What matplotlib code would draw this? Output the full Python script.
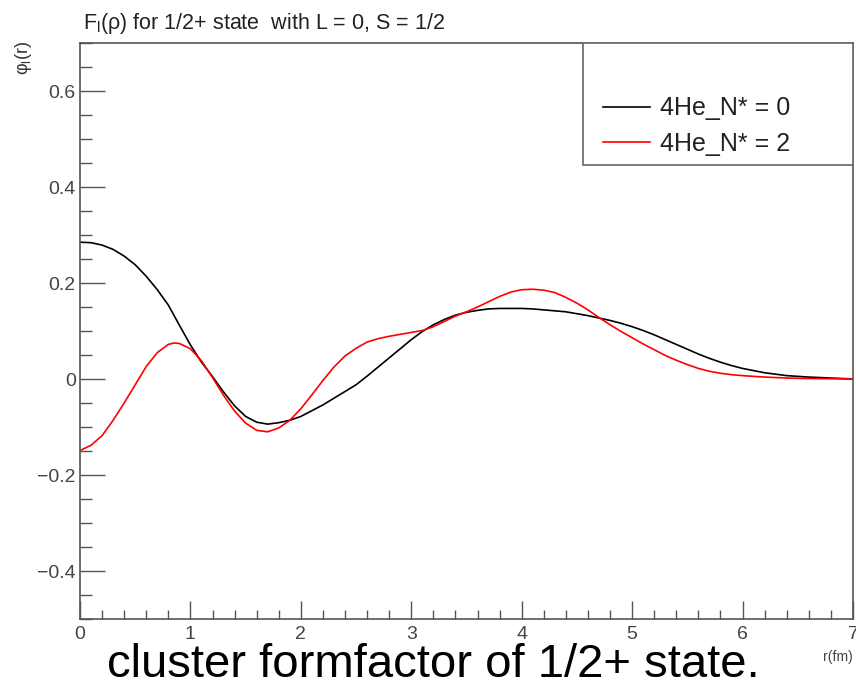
import matplotlib
matplotlib.use("Agg")
import matplotlib.pyplot as plt
from matplotlib.patches import Rectangle
from matplotlib.ticker import MultipleLocator

plt.rcParams.update({
    "font.family": ["Liberation Sans", "DejaVu Sans"],
    "mathtext.fontset": "custom",
    "mathtext.rm": "Liberation Sans",
    "axes.edgecolor": "#555555",
})

# radial grid (fm) and form factor values for each core configuration
r_n0 = [0.0, 0.1, 0.2, 0.3, 0.4, 0.5, 0.6, 0.7, 0.8, 0.9, 1.0, 1.1, 1.2,
        1.3, 1.4, 1.5, 1.6, 1.7, 1.8, 1.9, 2.0, 2.1, 2.2, 2.3, 2.4, 2.5,
        2.6, 2.7, 2.8, 2.9, 3.0, 3.1, 3.2, 3.3, 3.4, 3.5, 3.6, 3.7, 3.8,
        3.9, 4.0, 4.1, 4.2, 4.3, 4.4, 4.5, 4.6, 4.7, 4.8, 4.9, 5.0, 5.1,
        5.2, 5.3, 5.4, 5.5, 5.6, 5.7, 5.8, 5.9, 6.0, 6.2, 6.4, 6.6, 6.8,
        7.0]
phi_n0 = [0.285, 0.284, 0.279, 0.270, 0.256, 0.238, 0.214, 0.186, 0.154,
          0.112, 0.071, 0.035, 0.005, -0.027, -0.056, -0.078, -0.090,
          -0.094, -0.091, -0.086, -0.078, -0.066, -0.054, -0.040, -0.026,
          -0.012, 0.006, 0.025, 0.044, 0.063, 0.082, 0.099, 0.113, 0.124,
          0.133, 0.139, 0.143, 0.146, 0.147, 0.147, 0.147, 0.146, 0.144,
          0.142, 0.140, 0.136, 0.132, 0.127, 0.122, 0.116, 0.109, 0.101,
          0.092, 0.082, 0.072, 0.062, 0.052, 0.043, 0.035, 0.028, 0.022,
          0.013, 0.007, 0.004, 0.002, 0.0]

r_n2 = [0.0, 0.1, 0.2, 0.3, 0.4, 0.5, 0.6, 0.7, 0.8, 0.85, 0.9, 1.0, 1.1,
        1.2, 1.3, 1.4, 1.5, 1.6, 1.7, 1.8, 1.9, 2.0, 2.1, 2.2, 2.3, 2.4,
        2.5, 2.6, 2.7, 2.8, 2.9, 3.0, 3.1, 3.2, 3.3, 3.4, 3.5, 3.6, 3.7,
        3.8, 3.9, 4.0, 4.1, 4.2, 4.3, 4.4, 4.5, 4.6, 4.7, 4.8, 4.9, 5.0,
        5.1, 5.2, 5.3, 5.4, 5.5, 5.6, 5.7, 5.8, 5.9, 6.0, 6.2, 6.4, 6.6,
        6.8, 7.0]
phi_n2 = [-0.149, -0.138, -0.118, -0.086, -0.050, -0.012, 0.026, 0.055,
          0.072, 0.075, 0.074, 0.063, 0.038, 0.003, -0.034, -0.067, -0.092,
          -0.107, -0.110, -0.102, -0.086, -0.062, -0.033, -0.003, 0.025,
          0.048, 0.064, 0.077, 0.084, 0.089, 0.093, 0.097, 0.101, 0.109,
          0.120, 0.131, 0.140, 0.150, 0.161, 0.172, 0.181, 0.186, 0.187,
          0.185, 0.180, 0.170, 0.158, 0.144, 0.128, 0.113, 0.099, 0.086,
          0.073, 0.061, 0.049, 0.039, 0.030, 0.022, 0.016, 0.012, 0.009,
          0.007, 0.004, 0.002, 0.001, 0.0005, 0.0]

labels = ["4He_N* = 0", "4He_N* = 2"]
colors = ["#000000", "#ff0000"]

W, H = 856, 688
fig = plt.figure(figsize=(W / 100, H / 100), dpi=100)
ax = fig.add_axes([80 / W, 1 - 619 / H, 773 / W, 576 / H])

l0, = ax.plot(r_n0, phi_n0, color=colors[0], lw=1.2, label=labels[0])
l1, = ax.plot(r_n2, phi_n2, color=colors[1], lw=1.2, label=labels[1])

ax.set_xlim(0, 7)
ax.set_ylim(-0.5, 0.7)
ax.xaxis.set_major_locator(MultipleLocator(1))
ax.xaxis.set_minor_locator(MultipleLocator(0.2))
ax.yaxis.set_minor_locator(MultipleLocator(0.05))
ax.set_yticks([-0.4, -0.2, 0, 0.2, 0.4, 0.6])
ax.set_yticklabels(["\u22120.4", "\u22120.2", "0", "0.2", "0.4", "0.6"])

ax.tick_params(which="both", direction="in", top=False, right=False,
               color="#555555", width=1, labelcolor="#444444", labelsize=14)
ax.tick_params(axis="y", which="major", length=18, pad=3)
ax.tick_params(axis="y", which="minor", length=8.5)
ax.tick_params(axis="x", which="major", length=13, pad=5)
ax.tick_params(axis="x", which="minor", length=6.5)
for sp in ax.spines.values():
    sp.set_linewidth(1.2)

# boxed legend in the upper right corner
ax.add_patch(Rectangle((0.651, 0.788), 0.349, 0.212, transform=ax.transAxes,
                       facecolor="white", edgecolor="#666666", lw=1.2,
                       zorder=4))
leg = fig.legend(handles=[l0, l1], loc="center left",
                 bbox_to_anchor=(590 / W, 1 - 126 / H), frameon=False,
                 fontsize=18, handlelength=1.9, handletextpad=0.4,
                 labelspacing=0.45, borderpad=0)
for t in leg.get_texts():
    t.set_color("#222222")

fig.text(83 / W, 1 - 24 / H,
         r"F$_\mathregular{l}$(ρ) for 1/2+ state  with L = 0, S = 1/2",
         fontsize=15.5, va="center", ha="left", color="#222222")
fig.text(24 / W, 1 - 41 / H, r"φ$_\mathregular{l}$(r)", rotation=90,
         fontsize=13, va="top", ha="center", color="#333333")
fig.text(853 / W, 1 - 657 / H, "r(fm)", fontsize=10, va="center",
         ha="right", color="#444444")
fig.text(433 / W, 1 - 677 / H, "cluster formfactor of 1/2+ state.",
         fontsize=34, va="baseline", ha="center", color="black")

fig.savefig("out.png", dpi=100)
